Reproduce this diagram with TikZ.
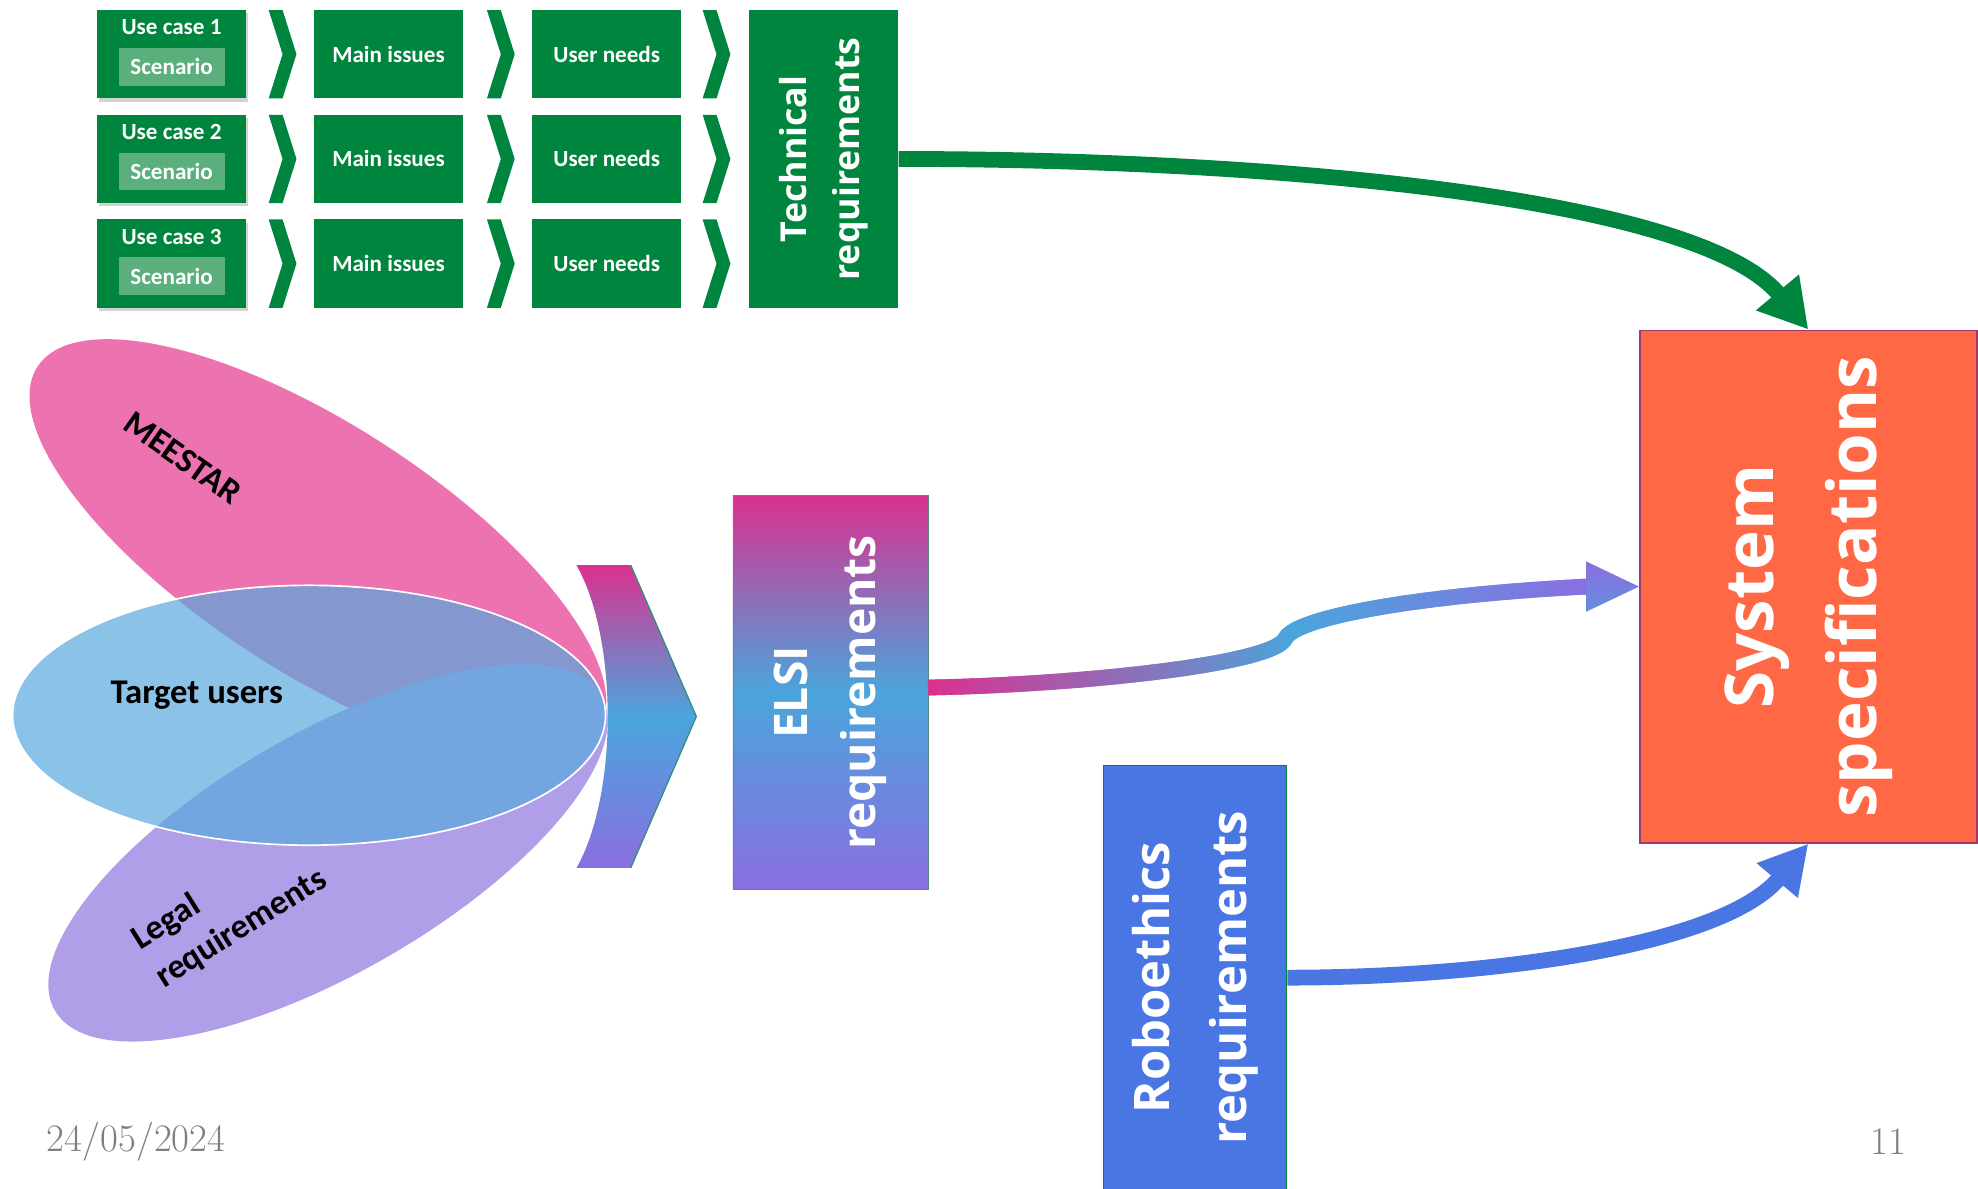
\documentclass[tikz,border=0pt]{standalone}
\usepackage{fontspec}
\newfontfamily\calib{Carlito}
\newfontfamily\osans{Open Sans}
\usetikzlibrary{arrows.meta,decorations.markings,shadows,calc}
\definecolor{cGreen}{HTML}{00853E}
\definecolor{cScen}{HTML}{5BAF7D}
\definecolor{cMag}{HTML}{DA3190}
\definecolor{cBlu}{HTML}{4AA5DC}
\definecolor{cPur}{HTML}{8A6EE0}
\definecolor{cPink}{HTML}{EC72B0}
\definecolor{cLav}{HTML}{B09FE8}
\definecolor{cSky}{HTML}{5AA8DD}
\definecolor{cRoyal}{HTML}{4A76E4}
\definecolor{cOrange}{HTML}{FF6845}
\definecolor{cSysBorder}{HTML}{9E3A6E}
\definecolor{cTeal}{HTML}{2F8F7A}
\definecolor{cGrayText}{HTML}{7F7F7F}
\tikzset{
  gbox/.style={rectangle, fill=cGreen, inner sep=0pt, minimum width=70.8pt, minimum height=42pt,
    text=white, font=\calib\bfseries\fontsize{11}{13}\selectfont},
  ucbox/.style={gbox, drop shadow={shadow xshift=1pt, shadow yshift=-1.5pt, opacity=0.35}},
  sbox/.style={rectangle, fill=cScen, inner sep=0pt, minimum width=50.4pt, minimum height=18pt,
    text=white, font=\calib\bfseries\fontsize{11}{13}\selectfont},
  wlabel/.style={text=white, font=\calib\bfseries\fontsize{11}{13}\selectfont, inner sep=0pt},
  bigtext/.style={rotate=90, text=white, align=center, inner sep=0pt},
  chev/.style={fill=cGreen},
  ltext/.style={text=black, font=\calib\bfseries\fontsize{16.5}{21.3}\selectfont, inner sep=0pt},
  foot/.style={text=cGrayText, font=\fontsize{18.5}{22}\selectfont, inner sep=0pt},
  fatarrow/.style={line width=7.5pt},
  gradline/.style={decorate, decoration={markings,
    mark=between positions 0 and 1 step 0.5pt with {%
      \pgfmathsetmacro\gfr{\pgfkeysvalueof{/pgf/decoration/mark info/distance from start}/\pgfdecoratedpathlength}%
      \pgfmathtruncatemacro\gsel{\gfr<0.55}%
      \ifnum\gsel=1
        \pgfmathtruncatemacro\gp{min(100,100*\gfr/0.55)}%
        \colorlet{segc}{cBlu!\gp!cMag}%
      \else
        \pgfmathtruncatemacro\gp{min(100,100*(\gfr-0.55)/0.45)}%
        \colorlet{segc}{cPur!\gp!cBlu}%
      \fi
      \fill[segc] (-0.45pt,-3.75pt) rectangle (0.45pt,3.75pt);
    }}},
}
\begin{document}
\begin{tikzpicture}[x=0.6pt,y=-0.6pt]
\useasboundingbox (0,0) rectangle (1568,942);

% ---- overlapping ellipses
\fill[cPink, rotate around={-33:(252,435)}] (252,435) ellipse [x radius=265, y radius=98];
\fill[cLav, rotate around={30:(260,676)}] (260,676) ellipse [x radius=250, y radius=95];
\filldraw[fill=cSky, fill opacity=0.7, draw=white, line width=0.8pt] (245,567) ellipse [x radius=235, y radius=103];
\node[ltext, rotate=-35] (meestar) at (145,363) {MEESTAR};
\node[ltext] (target) at (156,551) {Target users};
\node[ltext, rotate=32, align=left] (legal) at (182,721) {Legal\\requirements};

% ---- gradient chevron
\shade[top color=cMag, bottom color=cPur, middle color=cBlu]
  (457,448) -- (500,448) -- (552,568) -- (500,688) -- (457,688) .. controls (490,630) and (490,506) .. cycle;
\draw[cTeal, line width=0.6pt] (500,448) -- (552,568) -- (500,688);

% ---- green process rows
\foreach \k/\t in {1/8,2/91,3/174}{
  \node[ucbox] (uc\k) at (136,\t+35) {};
  \node[wlabel] (ucl\k) at (136,\t+13.5) {Use case \k};
  \node[sbox] (sc\k) at (136,\t+45) {Scenario};
  \node[gbox] (mi\k) at (308,\t+35) {Main issues};
  \node[gbox] (un\k) at (481,\t+35) {User needs};
  \foreach \cx in {213,386,557}
    \fill[chev] (\cx,\t) -- ++(11,0) -- ++(11,35) -- ++(-11,35) -- ++(-11,0) -- ++(11,-35) -- cycle;
}
\node[gbox, minimum height=141.6pt] (tech) at (653,126) {};
\node[bigtext, font=\osans\bfseries\fontsize{17}{25.5}\selectfont] (techt) at (tech.center) {Technical\\requirements};

% ---- ELSI box
\node[rectangle, top color=cMag, bottom color=cPur, middle color=cBlu, draw=cTeal!50!gray, line width=0.4pt,
  minimum width=93pt, minimum height=187.2pt, inner sep=0pt] (elsi) at (658.5,549) {};
\node[bigtext, font=\osans\bfseries\fontsize{22}{32.4}\selectfont] (elsit) at (elsi.center) {ELSI\\requirements};

% ---- Roboethics box
\node[rectangle, fill=cRoyal, draw=cGreen, line width=0.6pt, minimum width=87pt, minimum height=201.6pt,
  inner sep=0pt] (robo) at (947.5,775) {};
\node[bigtext, font=\osans\bfseries\fontsize{23.3}{36.5}\selectfont] (robot) at (robo.center) {Roboethics\\requirements};

% ---- System specifications box
\node[rectangle, fill=cOrange, draw=cSysBorder, line width=0.9pt, minimum width=160.2pt, minimum height=243.6pt,
  inner sep=0pt] (sys) at (1433.5,465) {};
\node[bigtext, font=\osans\bfseries\fontsize{32}{49}\selectfont] (syst) at (sys.center) {System\\specifications};

% ---- connectors
\draw[cGreen, fatarrow, -{Triangle[length=23pt,width=25pt]}]
  (tech.east) .. controls (1000,126) and (1345,155) .. (sys.north);
\draw[cRoyal, fatarrow, -{Triangle[length=23pt,width=24pt]}]
  (robo.east) .. controls (1180,775) and (1365,750) .. (sys.south);
\coordinate (elsiout) at ($(elsi.east)+(0,-4)$);
\coordinate (elsiend) at ($(sys.west)+(-42,0)$);
\path[gradline] (elsiout) .. controls (850,543) and (1010,527) .. (1019,506)
  .. controls (1027,490) and (1120,472) .. (elsiend);
\shade[top color=cPur, bottom color=cBlu!60!cPur] ($(elsiend)+(0,-20)$) -- (sys.west) -- ($(elsiend)+(0,20)$) -- cycle;

% ---- footer
\node[foot] (date) at (108,905) {24/05/2024};
\node[foot] (pnum) at (1497,905) {11};
\end{tikzpicture}
\end{document}
